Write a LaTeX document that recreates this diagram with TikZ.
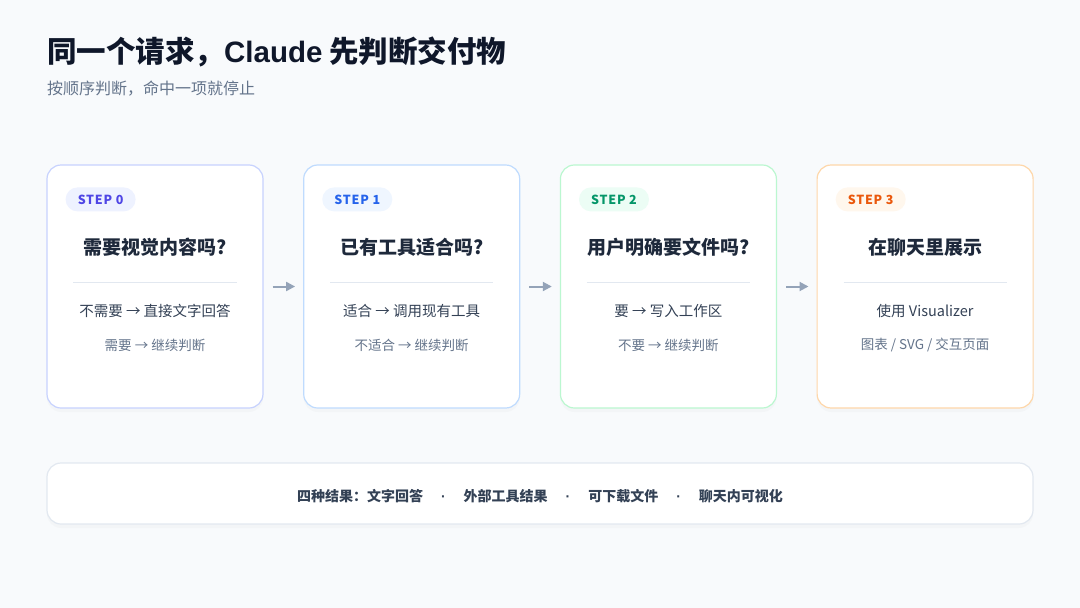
\documentclass[tikz,border=0pt]{standalone}
\usepackage{fontspec}
\setmainfont{Noto Sans CJK SC}
\newfontfamily\stepfont[LetterSpace=6]{Noto Sans CJK SC}
\newfontfamily\latinfont{Liberation Sans}
\usetikzlibrary{positioning,arrows.meta,shadows}

\definecolor{pagebg}{HTML}{F8FAFC}
\definecolor{titlec}{HTML}{0F172A}
\definecolor{subc}{HTML}{64748B}
\definecolor{headc}{HTML}{1E293B}
\definecolor{linec}{HTML}{334155}
\definecolor{mutec}{HTML}{64748B}
\definecolor{rulec}{HTML}{E2E8F0}
\definecolor{arrowc}{HTML}{94A3B8}
\definecolor{edge0}{HTML}{C7D2FE}
\definecolor{edge1}{HTML}{BFDBFE}
\definecolor{edge2}{HTML}{BBF7D0}
\definecolor{edge3}{HTML}{FED7AA}
\definecolor{pill0}{HTML}{EEF2FF}
\definecolor{pill1}{HTML}{EFF6FF}
\definecolor{pill2}{HTML}{ECFDF5}
\definecolor{pill3}{HTML}{FFF7ED}
\definecolor{step0}{HTML}{4F46E5}
\definecolor{step1}{HTML}{2563EB}
\definecolor{step2}{HTML}{059669}
\definecolor{step3}{HTML}{EA580C}

\begin{document}
\begin{tikzpicture}[x=1pt, y=-1pt, >=Stealth,
  card/.style={draw, line width=1.2pt, fill=white, rounded corners=14pt,
    minimum width=216pt, minimum height=243pt,
    drop shadow={opacity=0.035, shadow xshift=0pt, shadow yshift=-4pt}},
  pill/.style={rounded corners=12pt, minimum width=70pt, minimum height=24pt,
    inner sep=0pt, font=\stepfont\bfseries\fontsize{12.5}{14}\selectfont},
  head/.style={font=\bfseries\fontsize{19}{22}\selectfont, text=headc},
  answer/.style={font=\fontsize{14.5}{17}\selectfont, text=linec},
  other/.style={font=\fontsize{13.5}{16}\selectfont, text=mutec},
  divider/.style={draw=rulec, line width=0.8pt},
  flow/.style={-{Triangle[length=9pt,width=9pt]}, draw=arrowc, line width=2pt,
    shorten <=9pt, shorten >=8pt}]
  \fill[pagebg] (0,0) rectangle (1080,608);
  \useasboundingbox (0,0) rectangle (1080,608);

  % title block
  \node[anchor=west, inner sep=0pt, text=titlec, font=\bfseries\fontsize{29.5}{34}\selectfont]
    (title) at (47,52) {同一个请求，{\latinfont Claude} 先判断交付物};
  \node[anchor=west, inner sep=0pt, text=subc, font=\fontsize{16}{19}\selectfont]
    (subtitle) at (47,89) {按顺序判断，命中一项就停止};

  % the four steps
  \node[card, draw=edge0] (card0) at (155,286.5) {};
  \node[card, draw=edge1, right=39.5pt of card0] (card1) {};
  \node[card, draw=edge2, right=39.5pt of card1] (card2) {};
  \node[card, draw=edge3, right=39.5pt of card2] (card3) {};

  \node[pill, fill=pill0, text=step0, anchor=west] (tag0) at ([shift={(19pt,-35pt)}]card0.north west) {STEP 0};
  \node[head] (ask0) at ([yshift=-83pt]card0.north) {需要视觉内容吗?};
  \draw[divider] ([shift={(27pt,-118pt)}]card0.north west) -- ([shift={(-27pt,-118pt)}]card0.north east);
  \node[answer] (yes0) at ([yshift=-147pt]card0.north) {不需要 → 直接文字回答};
  \node[other] (no0) at ([yshift=-181pt]card0.north) {需要 → 继续判断};

  \node[pill, fill=pill1, text=step1, anchor=west] (tag1) at ([shift={(19pt,-35pt)}]card1.north west) {STEP 1};
  \node[head] (ask1) at ([yshift=-83pt]card1.north) {已有工具适合吗?};
  \draw[divider] ([shift={(27pt,-118pt)}]card1.north west) -- ([shift={(-27pt,-118pt)}]card1.north east);
  \node[answer] (yes1) at ([yshift=-147pt]card1.north) {适合 → 调用现有工具};
  \node[other] (no1) at ([yshift=-181pt]card1.north) {不适合 → 继续判断};

  \node[pill, fill=pill2, text=step2, anchor=west] (tag2) at ([shift={(19pt,-35pt)}]card2.north west) {STEP 2};
  \node[head] (ask2) at ([yshift=-83pt]card2.north) {用户明确要文件吗?};
  \draw[divider] ([shift={(27pt,-118pt)}]card2.north west) -- ([shift={(-27pt,-118pt)}]card2.north east);
  \node[answer] (yes2) at ([yshift=-147pt]card2.north) {要 → 写入工作区};
  \node[other] (no2) at ([yshift=-181pt]card2.north) {不要 → 继续判断};

  \node[pill, fill=pill3, text=step3, anchor=west] (tag3) at ([shift={(19pt,-35pt)}]card3.north west) {STEP 3};
  \node[head] (ask3) at ([yshift=-83pt]card3.north) {在聊天里展示};
  \draw[divider] ([shift={(27pt,-118pt)}]card3.north west) -- ([shift={(-27pt,-118pt)}]card3.north east);
  \node[answer] (yes3) at ([yshift=-147pt]card3.north) {使用 Visualizer};
  \node[other] (no3) at ([yshift=-181pt]card3.north) {图表 / SVG / 交互页面};

  \draw[flow] (card0) -- (card1);
  \draw[flow] (card1) -- (card2);
  \draw[flow] (card2) -- (card3);

  % outcomes strip
  \node[card, draw=rulec, minimum width=986pt, minimum height=61pt] (outcomes) at (540,493.5) {};
  \node[text=linec, font=\bfseries\fontsize{14}{17}\selectfont] (results) at ([yshift=-2.5pt]outcomes.center)
    {四种结果：文字回答\hspace{18pt}{\latinfont·}\hspace{18pt}外部工具结果\hspace{18pt}{\latinfont·}\hspace{18pt}可下载文件\hspace{18pt}{\latinfont·}\hspace{18pt}聊天内可视化};
\end{tikzpicture}
\end{document}
